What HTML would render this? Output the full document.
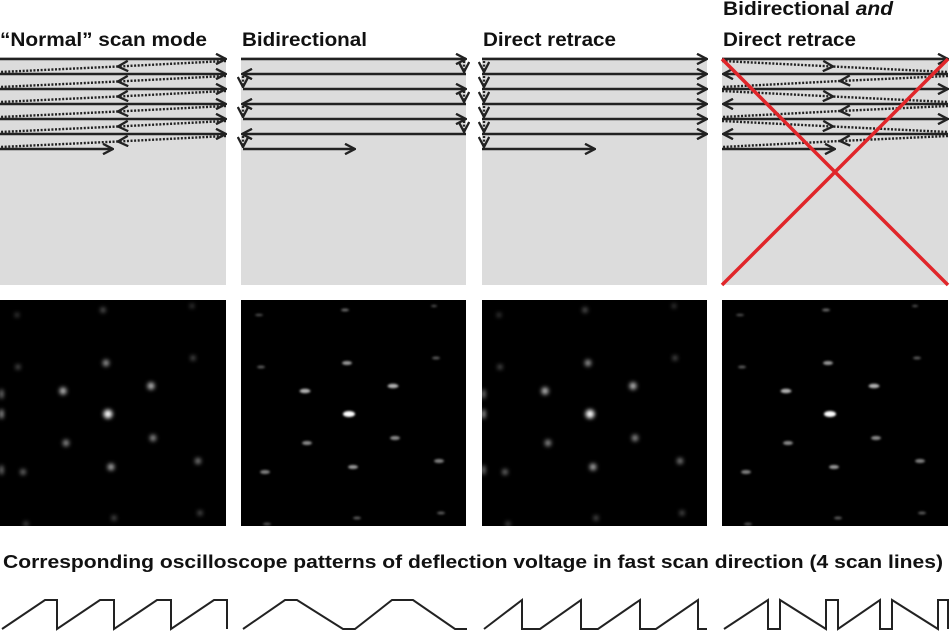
<!DOCTYPE html>
<html><head><meta charset="utf-8"><style>
html,body{margin:0;padding:0;background:#fff}
svg{display:block}
text{font-family:"Liberation Sans",Arial,sans-serif;font-weight:bold;fill:#111}
</style></head><body>
<svg width="950" height="633" viewBox="0 0 950 633" xmlns="http://www.w3.org/2000/svg">
<defs>
<marker id="a" viewBox="0 0 12 12" refX="11" refY="6" markerWidth="12" markerHeight="12" markerUnits="userSpaceOnUse" orient="auto">
<path d="M1 0.8 L11 6 L1 11.2" fill="none" stroke="#222" stroke-width="2.3"/></marker>
<filter id="bl" x="-1" y="-1" width="3" height="3"><feGaussianBlur stdDeviation="2"/></filter>
<filter id="bl2" x="-1" y="-1" width="3" height="3"><feGaussianBlur stdDeviation="1"/></filter>
<g id="spots" fill="#fff" filter="url(#bl)">
<circle cx="103" cy="10" r="2.6" opacity=".4"/><circle cx="106" cy="63" r="3.2" opacity=".65"/>
<circle cx="63" cy="91" r="3.6" opacity=".75"/><circle cx="151" cy="86" r="3.6" opacity=".75"/>
<circle cx="108" cy="114" r="4.4" opacity="1"/><circle cx="66" cy="143" r="3.2" opacity=".6"/>
<circle cx="153" cy="138" r="3.2" opacity=".6"/><circle cx="111" cy="167" r="3.4" opacity=".7"/>
<circle cx="198" cy="161" r="3" opacity=".55"/><circle cx="114" cy="218" r="2.4" opacity=".4"/>
<circle cx="200" cy="213" r="2.4" opacity=".4"/><circle cx="17" cy="15" r="2" opacity=".35"/>
<circle cx="18" cy="67" r="2.4" opacity=".4"/><circle cx="23" cy="172" r="2.8" opacity=".5"/>
<circle cx="192" cy="6" r="2" opacity=".35"/><circle cx="193" cy="58" r="2.4" opacity=".4"/>
<circle cx="26" cy="224" r="2.4" opacity=".35"/>
<rect x="0" y="90" width="3" height="8" opacity=".6"/><rect x="0" y="110" width="3" height="8" opacity=".8"/><rect x="0" y="166" width="3" height="8" opacity=".6"/>
</g>
<g id="spots2" fill="#fff" filter="url(#bl2)">
<ellipse cx="104" cy="10" rx="4" ry="1.5" opacity=".4"/><ellipse cx="106" cy="63" rx="5" ry="2" opacity=".6"/>
<ellipse cx="64" cy="91" rx="5.5" ry="2.2" opacity=".7"/><ellipse cx="152" cy="86" rx="5.5" ry="2.2" opacity=".7"/>
<ellipse cx="108" cy="114" rx="6" ry="3" opacity="1"/><ellipse cx="66" cy="143" rx="5" ry="2" opacity=".55"/>
<ellipse cx="154" cy="138" rx="5" ry="2" opacity=".55"/><ellipse cx="112" cy="167" rx="5" ry="2" opacity=".6"/>
<ellipse cx="198" cy="161" rx="5" ry="2" opacity=".5"/><ellipse cx="116" cy="218" rx="4" ry="1.5" opacity=".35"/>
<ellipse cx="200" cy="213" rx="4" ry="1.5" opacity=".35"/><ellipse cx="18" cy="15" rx="4" ry="1.2" opacity=".3"/>
<ellipse cx="20" cy="67" rx="4" ry="1.5" opacity=".35"/><ellipse cx="24" cy="172" rx="5" ry="2" opacity=".5"/>
<ellipse cx="193" cy="6" rx="3" ry="1.2" opacity=".3"/><ellipse cx="195" cy="58" rx="4" ry="1.5" opacity=".35"/>
<ellipse cx="26" cy="224" rx="4" ry="1.5" opacity=".3"/>
</g>
</defs>

<text x="0" y="46" font-size="19" textLength="207" lengthAdjust="spacingAndGlyphs">“Normal” scan mode</text>
<text x="242" y="46" font-size="19" textLength="125" lengthAdjust="spacingAndGlyphs">Bidirectional</text>
<text x="483" y="46" font-size="19" textLength="133" lengthAdjust="spacingAndGlyphs">Direct retrace</text>
<text x="723" y="15" font-size="19" textLength="170" lengthAdjust="spacingAndGlyphs">Bidirectional <tspan font-style="italic">and</tspan></text>
<text x="723" y="46" font-size="19" textLength="133" lengthAdjust="spacingAndGlyphs">Direct retrace</text>

<g fill="#dcdcdc">
<rect x="0" y="57" width="226" height="228"/><rect x="241" y="57" width="225" height="228"/>
<rect x="482" y="57" width="225" height="228"/><rect x="722" y="57" width="226" height="228"/>
</g>

<g stroke="#222" stroke-width="2.4" fill="none">
<g marker-end="url(#a)">
<line x1="0" y1="59" x2="226" y2="59"/><line x1="0" y1="74" x2="226" y2="74"/>
<line x1="0" y1="89" x2="226" y2="89"/><line x1="0" y1="104" x2="226" y2="104"/>
<line x1="0" y1="119" x2="226" y2="119"/><line x1="0" y1="134" x2="226" y2="134"/>
<line x1="0" y1="149" x2="113" y2="149"/>
</g>
<g stroke-dasharray="2 1.6" marker-mid="url(#a)">
<polyline points="226,61 118,66.5 0,72"/><polyline points="226,76 118,81.5 0,87"/>
<polyline points="226,91 118,96.5 0,102"/><polyline points="226,106 118,111.5 0,117"/>
<polyline points="226,121 118,126.5 0,132"/><polyline points="226,136 118,141.5 0,147"/>
</g>
<g marker-end="url(#a)">
<line x1="241" y1="59" x2="466" y2="59"/><line x1="466" y1="74" x2="242" y2="74"/>
<line x1="243" y1="89" x2="466" y2="89"/><line x1="466" y1="104" x2="242" y2="104"/>
<line x1="243" y1="119" x2="466" y2="119"/><line x1="466" y1="134" x2="242" y2="134"/>
<line x1="243" y1="149" x2="355" y2="149"/>
</g>
<g stroke-dasharray="2 1.6" marker-end="url(#a)">
<line x1="464" y1="61" x2="464" y2="72"/><line x1="464" y1="91" x2="464" y2="102"/><line x1="464" y1="121" x2="464" y2="132"/>
<line x1="243" y1="76" x2="243" y2="87"/><line x1="243" y1="106" x2="243" y2="117"/><line x1="243" y1="136" x2="243" y2="147"/>
</g>
<g marker-end="url(#a)">
<line x1="482" y1="59" x2="707" y2="59"/><line x1="482" y1="74" x2="707" y2="74"/>
<line x1="482" y1="89" x2="707" y2="89"/><line x1="482" y1="104" x2="707" y2="104"/>
<line x1="482" y1="119" x2="707" y2="119"/><line x1="482" y1="134" x2="707" y2="134"/>
<line x1="482" y1="149" x2="595" y2="149"/>
</g>
<g stroke-dasharray="2 1.6" marker-end="url(#a)">
<line x1="484" y1="61" x2="484" y2="72"/><line x1="484" y1="76" x2="484" y2="87"/>
<line x1="484" y1="91" x2="484" y2="102"/><line x1="484" y1="106" x2="484" y2="117"/>
<line x1="484" y1="121" x2="484" y2="132"/><line x1="484" y1="136" x2="484" y2="147"/>
</g>
<g marker-end="url(#a)">
<line x1="722" y1="59" x2="948" y2="59"/><line x1="948" y1="74" x2="723" y2="74"/>
<line x1="722" y1="89" x2="948" y2="89"/><line x1="948" y1="104" x2="723" y2="104"/>
<line x1="722" y1="119" x2="948" y2="119"/><line x1="948" y1="134" x2="723" y2="134"/>
<line x1="722" y1="149" x2="835" y2="149"/>
</g>
<g stroke-dasharray="2 1.6" marker-mid="url(#a)">
<polyline points="722,61 833,66.5 948,72"/><polyline points="948,76 840,81 722,87"/>
<polyline points="722,91 833,96.5 948,102"/><polyline points="948,106 840,111 722,117"/>
<polyline points="722,121 833,126.5 948,132"/><polyline points="948,136 840,141 722,147"/>
</g>
</g>
<g stroke="#e0262a" stroke-width="3.5">
<line x1="722" y1="59" x2="948" y2="285"/><line x1="948" y1="59" x2="722" y2="285"/>
</g>

<rect x="0" y="300" width="226" height="226" fill="#000"/>
<rect x="241" y="300" width="225" height="226" fill="#000"/>
<rect x="482" y="300" width="225" height="226" fill="#000"/>
<rect x="722" y="300" width="226" height="226" fill="#000"/>
<use href="#spots" x="0" y="300"/>
<use href="#spots2" x="241" y="300"/>
<use href="#spots" x="482" y="300"/>
<use href="#spots2" x="722" y="300"/>

<text x="3" y="568" font-size="18" textLength="940" lengthAdjust="spacingAndGlyphs">Corresponding oscilloscope patterns of deflection voltage in fast scan direction (4 scan lines)</text>

<g stroke="#222" stroke-width="2" fill="none" stroke-linejoin="miter">
<polyline points="2,629 45,600 57,600 57,629 100,600 114,600 114,629 157,600 171,600 171,629 214,600 227,600 227,629"/>
<polyline points="243,629 285,600 297,600 343,629 355,629 392,600 413,600 455,629 467,629"/>
<polyline points="484,629 522,600 522,629 540,629 581,600 581,629 598,629 640,600 640,629 656,629 698,600 698,629 707,629"/>
<polyline points="724,629 768,600 768,629 780,629 780,600 826,629 826,600 838,600 838,629 880,600 880,629 892,629 892,600 938,629 938,600 948,600 948,629"/>
</g>
</svg>
</body></html>
